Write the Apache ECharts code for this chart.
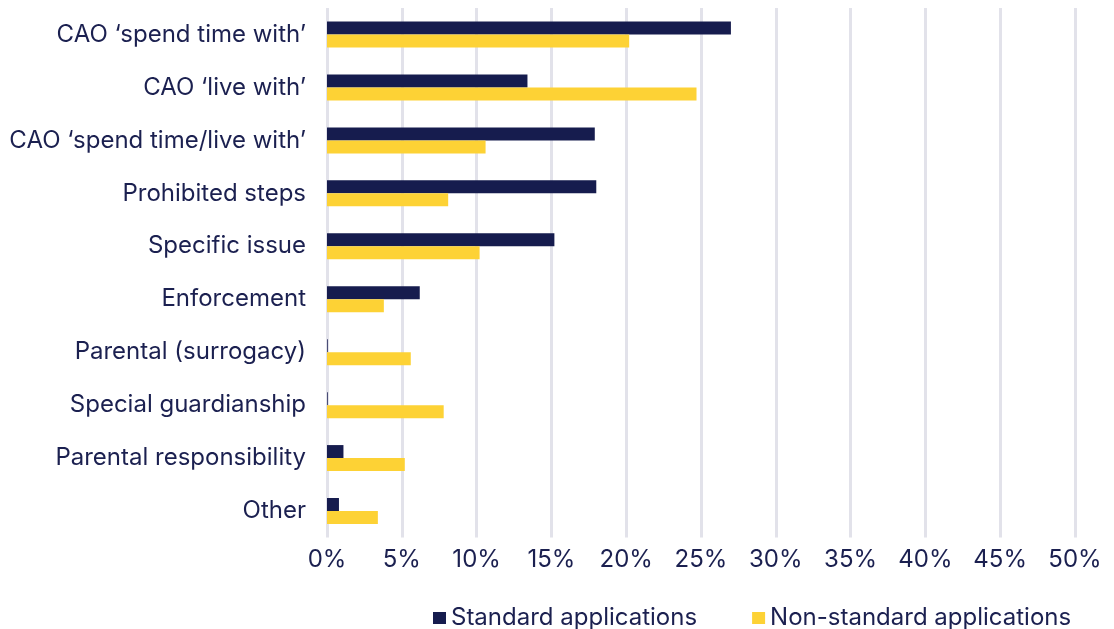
<!DOCTYPE html>
<html>
<head>
<meta charset="utf-8">
<style>
  html, body { margin: 0; padding: 0; background: #ffffff; }
  #chart { width: 1114px; height: 629px; }
</style>
<script src="https://cdn.jsdelivr.net/npm/echarts@6/dist/echarts.min.js"></script>
</head>
<body>
<div id="chart"></div>
<script>
// Order types, listed top to bottom
const categories = [
  "CAO \u2018spend time with\u2019",
  "CAO \u2018live with\u2019",
  "CAO \u2018spend time/live with\u2019",
  "Prohibited steps",
  "Specific issue",
  "Enforcement",
  "Parental (surrogacy)",
  "Special guardianship",
  "Parental responsibility",
  "Other"
];

// Share of applications (%)
const standardValues =    [27.0, 13.4, 17.9, 18.0, 15.2, 6.2, 0.05, 0.05, 1.1, 0.8];
const nonStandardValues = [20.2, 24.7, 10.6, 8.1, 10.2, 3.8, 5.6, 7.8, 5.2, 3.4];

const seriesNames = ["Standard applications", "Non-standard applications"];
const axisMax = 50;
const axisStep = 5;

const NAVY = "#161c4e";
const YELLOW = "#fdd235";
const TEXT = "#1b2050";
const FONT = "Inter";
const FONT_SIZE = 24;

const chart = echarts.init(document.getElementById("chart"));

chart.setOption({
  backgroundColor: "#ffffff",
  animation: false,
  textStyle: { fontFamily: FONT, color: TEXT },
  grid: { left: 327, right: 39, top: 8, bottom: 91.5, containLabel: false },
  legend: {
    left: 428,
    top: 601,
    itemWidth: 13,
    itemHeight: 12,
    itemGap: 55,
    icon: "rect",
    textStyle: { fontFamily: FONT, fontSize: 24, color: TEXT, padding: [0, 0, 8, 0] },
    data: seriesNames
  },
  xAxis: {
    type: "value",
    min: 0,
    max: axisMax,
    interval: axisStep,
    axisLine: { show: false },
    axisTick: { show: false },
    splitLine: { show: true, lineStyle: { color: "#e2e2ea", width: 3 } },
    axisLabel: {
      formatter: "{value}%",
      fontFamily: FONT,
      fontSize: FONT_SIZE,
      color: TEXT,
      margin: 10
    }
  },
  yAxis: {
    type: "category",
    inverse: true,
    data: categories,
    axisLine: { show: false },
    axisTick: { show: false },
    splitLine: { show: false },
    axisLabel: {
      fontFamily: FONT,
      fontSize: FONT_SIZE,
      color: TEXT,
      margin: 21
    }
  },
  series: [
    {
      name: seriesNames[0],
      type: "bar",
      data: standardValues,
      barWidth: 13,
      barGap: "0%",
      itemStyle: { color: NAVY }
    },
    {
      name: seriesNames[1],
      type: "bar",
      data: nonStandardValues,
      barWidth: 13,
      barGap: "0%",
      itemStyle: { color: YELLOW }
    }
  ]
});
</script>
</body>
</html>
